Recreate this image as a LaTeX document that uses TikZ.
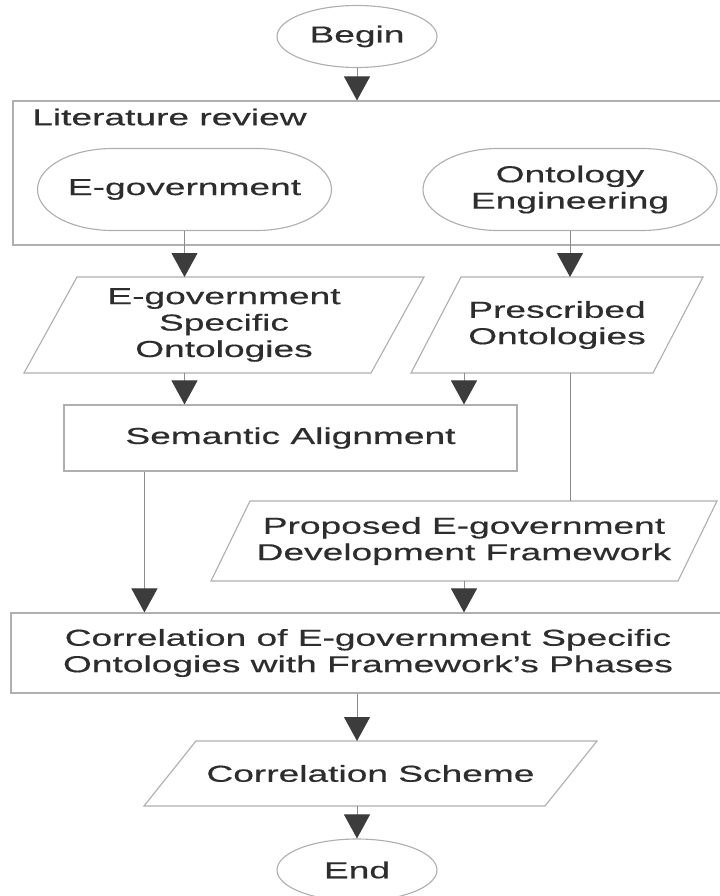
\documentclass[tikz,border=0pt]{standalone}
\usepackage{fontspec}
\newfontfamily\chartfont{Liberation Sans}[FakeStretch=1.61, FakeBold=0.5]
\usetikzlibrary{shapes.geometric,arrows.meta}
\definecolor{cline}{RGB}{175,175,175}
\definecolor{clink}{RGB}{140,140,140}
\definecolor{ctip}{RGB}{60,60,60}
\definecolor{ctext}{RGB}{45,45,45}

\begin{document}
\begin{tikzpicture}[
    every node/.style={font=\chartfont\fontsize{16.4}{18.8}\selectfont, text=ctext},
    outline/.style={draw=cline, line width=0.8pt},
    flow/.style={draw=clink, line width=0.7pt,
                 -{Triangle[length=0.6cm, width=0.65cm, color=ctip, fill=ctip]}},
    terminal/.style={ellipse, outline, minimum width=4cm, minimum height=1.55cm},
    process/.style={rectangle, outline, align=center},
    topic/.style={rectangle, align=center, outer sep=0pt,
                  minimum width=7.35cm, minimum height=2.05cm,
                  append after command={\pgfextra{\draw[outline]
                    ([xshift=1.875cm]\tikzlastnode.north west) -- ([xshift=-1.875cm]\tikzlastnode.north east)
                    arc[start angle=90, end angle=-90, x radius=1.875cm, y radius=1.025cm]
                    -- ([xshift=1.875cm]\tikzlastnode.south west)
                    arc[start angle=270, end angle=90, x radius=1.875cm, y radius=1.025cm] -- cycle;}}},
    data/.style={rectangle, align=center, outer sep=0pt,
                 append after command={\pgfextra{\draw[outline]
                   ([xshift=#1]\tikzlastnode.north west) -- (\tikzlastnode.north east)
                   -- ([xshift=-#1]\tikzlastnode.south east) -- (\tikzlastnode.south west) -- cycle;}}},
  ]
  \useasboundingbox (0,0) rectangle (17.975,-22.4);

  % start
  \node[terminal] (begin) at (8.925,-0.9125) {Begin};

  % literature review
  \node[process, minimum width=17.8cm, minimum height=3.6cm] (lit) at (9.225,-4.325) {};
  \node[anchor=west, inner sep=0pt] (littitle) at (0.8,-2.925) {Literature review};
  \node[topic] (egov) at (4.6125,-4.7375) {E-government};
  \node[topic] (onto) at (14.25,-4.7375) {Ontology\\Engineering};

  % ontologies
  \node[data=1.325cm, minimum width=10cm, minimum height=2.4cm] (egso) at (5.6,-8.125)
    {E-government\\Specific\\Ontologies};
  \node[data=1.25cm, minimum width=7.3cm, minimum height=2.4cm] (presc) at (13.925,-8.125)
    {Prescribed\\Ontologies};
  \node[process, minimum width=11.325cm, minimum height=1.65cm] (align) at (7.2625,-10.95)
    {Semantic Alignment};

  % framework
  \node[data=0.975cm, minimum width=12.65cm, minimum height=2cm] (prop) at (11.6,-13.525)
    {Proposed E-government\\Development Framework};
  \node[process, minimum width=17.85cm, minimum height=2cm] (corr) at (9.2,-16.325)
    {Correlation of E-government Specific\\Ontologies with Framework’s Phases};
  \node[data=1.3cm, minimum width=11.325cm, minimum height=1.625cm] (scheme) at (9.2625,-19.3375)
    {Correlation Scheme};

  % end
  \node[terminal] (end) at (8.925,-21.75) {End};

  % connectors
  \draw[flow] (begin.south) -- (begin.south |- lit.north);
  \draw[flow] (egov.south) -- (egov.south |- egso.north);
  \draw[flow] (onto.south) -- (onto.south |- presc.north);
  \draw[flow] (egso.south -| egov) -- (align.north -| egov);
  \draw[flow] (presc.south -| prop) -- (align.north -| prop);
  \draw[draw=clink, line width=0.7pt] (presc.south -| onto) -- (prop.north -| onto);
  \draw[flow] ([xshift=2.025cm]align.south west) coordinate (drop) -- (drop |- corr.north);
  \draw[flow] (prop.south) -- (prop.south |- corr.north);
  \draw[flow] (corr.south -| begin) -- (scheme.north -| begin);
  \draw[flow] (scheme.south -| end) -- (end.north);
\end{tikzpicture}
\end{document}
